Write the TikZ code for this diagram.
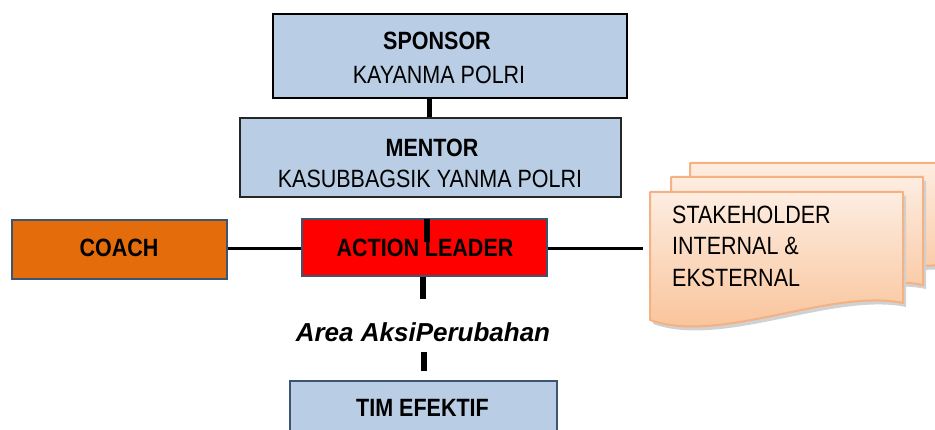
\documentclass[tikz,border=0pt]{standalone}
\usepackage{fontspec}
\setmainfont{Liberation Sans}[FakeStretch=0.86]
\newfontfamily\areafont{Liberation Sans}
\definecolor{boxblue}{HTML}{B9CDE5}
\definecolor{edgeblue}{HTML}{3B5573}
\definecolor{coachor}{HTML}{E46C0A}
\definecolor{alred}{HTML}{FF0000}
\definecolor{pagetop}{HTML}{FDEDE1}
\definecolor{pagebot}{HTML}{F9BF92}
\definecolor{pageedge}{HTML}{F4B183}
\begin{document}
\begin{tikzpicture}[x=1pt,y=-1pt,
  box/.style={draw, line width=2pt, inner sep=0pt},
  txt/.style={anchor=base, inner sep=0pt, font=\fontsize{25}{30}\selectfont},
  btxt/.style={anchor=base, inner sep=0pt, font=\fontsize{25}{30}\selectfont\bfseries},
  bar/.style={line width=6pt, black},
  hline/.style={line width=3pt, black},
  page/.style={draw=pageedge, line width=2pt, top color=pagetop, bottom color=pagebot, line join=round},
  pshadow/.style={fill=black!18}]
\useasboundingbox (0,0) rectangle (935,430);

% stakeholder pages (back, middle, front)
\fill[pshadow, shift={(3,4)}] (690,163) -- (965,163) -- (965,268) .. controls (892,253) and (760,310) .. (690,285) -- cycle;
\path[page] (690,163) -- (965,163) -- (965,268) .. controls (892,253) and (760,310) .. (690,285) -- cycle;
\fill[pshadow, shift={(3,4)}] (671,177) -- (923,177) -- (923,285) .. controls (850,270) and (741,327) .. (671,302) -- cycle;
\path[page] (671,177) -- (923,177) -- (923,285) .. controls (850,270) and (741,327) .. (671,302) -- cycle;
\fill[pshadow, shift={(3,4)}] (650,192) -- (903,192) -- (903,303) .. controls (830,288) and (720,345) .. (650,320) -- cycle;
\path[page] (650,192) -- (903,192) -- (903,303) .. controls (830,288) and (720,345) .. (650,320) -- cycle;
\coordinate (stk) at (650,249);
\node[txt, anchor=base west] (st1) at (672,224) {STAKEHOLDER};
\node[txt, anchor=base west] (st2) at (672,255) {INTERNAL \&};
\node[txt, anchor=base west] (st3) at (672,287) {EKSTERNAL};

% boxes
\node[box, fill=boxblue, draw=black, minimum width=354pt, minimum height=84pt] (sp) at (450,56) {};
\node[btxt] (spt1) at (437,50) {SPONSOR};
\node[txt] (spt2) at (439,84) {KAYANMA POLRI};

\node[box, fill=boxblue, draw=black!85, minimum width=381pt, minimum height=79pt] (me) at (430.5,157.5) {};
\node[btxt] (met1) at (432,157) {MENTOR};
\node[txt] (met2) at (430,188) {KASUBBAGSIK YANMA POLRI};

\node[box, fill=alred, draw=edgeblue, minimum width=245pt, minimum height=57pt] (al) at (424.5,247.5) {};

\node[box, fill=coachor, draw=edgeblue, minimum width=215pt, minimum height=59pt] (coach) at (119.5,250) {};
\node[btxt] (coacht) at (119,257) {COACH};

\node[box, fill=boxblue, draw=edgeblue, minimum width=267pt, minimum height=64pt] (tim) at (423.5,413) {};
\node[btxt] (timt) at (422.5,417) {TIM EFEKTIF};

\node[anchor=base, inner sep=0pt, font=\areafont\fontsize{26}{30}\selectfont\bfseries\itshape] (area) at (423,342) {Area AksiPerubahan};

% connectors
\draw[bar, line width=5pt] ([xshift=-21pt]sp.south) -- ([xshift=-21pt]sp.south |- me.north);
\draw[bar] ([xshift=2.5pt,yshift=-1pt]al.north) -- ++(0,23);
\draw[hline] (coach.east |- 0,249) -- (al.west |- 0,249);
\draw[hline, shorten >=7pt] (al.east |- stk) -- (stk);
\draw[bar] ([xshift=-1.5pt]al.south) -- ++(0,22);
\draw[bar] ([xshift=0.5pt,yshift=9pt]tim.north) -- ++(0,-19);

\node[btxt] (alt) at (425,257) {ACTION LEADER};
\draw[bar] ([xshift=2.5pt,yshift=-1pt]al.north) -- ++(0,23);
\end{tikzpicture}
\end{document}
